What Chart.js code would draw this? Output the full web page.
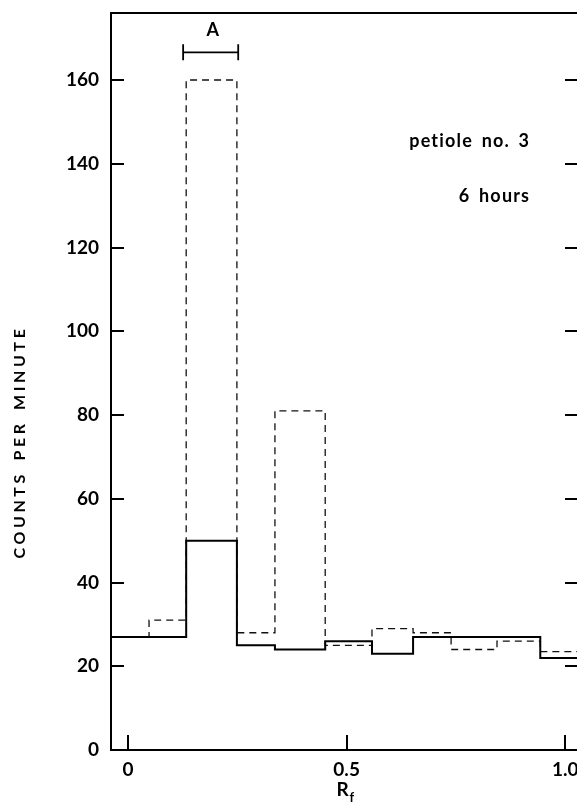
<!DOCTYPE html>
<html>
<head>
<meta charset="utf-8">
<script src="https://cdn.jsdelivr.net/npm/chart.js@4"></script>
<style>
  html, body { margin: 0; padding: 0; background: #fff; }
  #wrap { width: 577px; height: 804px; }
</style>
</head>
<body>
<div id="wrap"><canvas id="chart" width="577" height="804"></canvas></div>
<script>
// strip sections (Rf at each left edge, last one is the right end)
const binEdges = [-0.039, 0.048, 0.133, 0.249, 0.336, 0.451, 0.558, 0.652, 0.739, 0.844, 0.943, 1.027];
// counts per minute for each section
const solidCounts  = [27, 27, 50, 25, 24, 26, 23, 27, 27, 27, 22];
const dashedCounts = [27, 31, 160, 28, 81, 25, 29, 28, 24, 26, 23.5];

const yTickValues = [0, 20, 40, 60, 80, 100, 120, 140, 160];
const xTickValues = [0, 0.5, 1.0];
const xTickLabels = ['0', '0.5', '1.0'];

const bandA = [0.126, 0.252]; // bracket "A"
const FONT = 'Lato, "DejaVu Sans", sans-serif';

function toSteps(counts) {
  const pts = counts.map((c, i) => ({ x: binEdges[i], y: c }));
  pts.push({ x: binEdges[binEdges.length - 1], y: counts[counts.length - 1] });
  return pts;
}

const decor = {
  id: 'decor',
  afterDraw(chart) {
    const { ctx, chartArea: a, scales: { x, y } } = chart;
    ctx.save();
    ctx.strokeStyle = '#000';
    ctx.fillStyle = '#000';
    ctx.lineWidth = 2;

    // top frame
    ctx.beginPath();
    ctx.moveTo(a.left, a.top);
    ctx.lineTo(a.right, a.top);
    ctx.stroke();

    // inward ticks, left and right
    yTickValues.forEach(v => {
      if (v === 0) return;
      const py = Math.round(y.getPixelForValue(v));
      ctx.beginPath();
      ctx.moveTo(a.left, py); ctx.lineTo(a.left + 13, py);
      ctx.moveTo(a.right - 12, py); ctx.lineTo(a.right, py);
      ctx.stroke();
    });
    xTickValues.forEach(v => {
      const px = Math.round(x.getPixelForValue(v));
      ctx.beginPath();
      ctx.moveTo(px, a.bottom); ctx.lineTo(px, a.bottom - 15);
      ctx.stroke();
    });

    // bracket A
    const bx0 = x.getPixelForValue(bandA[0]);
    const bx1 = x.getPixelForValue(bandA[1]);
    const by = y.getPixelForValue(166.6);
    ctx.lineWidth = 1.8;
    ctx.beginPath();
    ctx.moveTo(bx0, by); ctx.lineTo(bx1, by);
    ctx.moveTo(bx0, by - 8); ctx.lineTo(bx0, by + 8);
    ctx.moveTo(bx1, by - 8); ctx.lineTo(bx1, by + 8);
    ctx.stroke();
    ctx.font = 'bold 18px ' + FONT;
    ctx.textAlign = 'center';
    ctx.textBaseline = 'middle';
    ctx.fillText('A', (bx0 + bx1) / 2 + 2, by - 22);

    // notes
    ctx.font = 'bold 18px ' + FONT;
    ctx.letterSpacing = '1.2px';
    ctx.wordSpacing = '3px';
    ctx.textAlign = 'right';
    ctx.fillText('petiole no. 3', x.getPixelForValue(0.92), y.getPixelForValue(145.3));
    ctx.fillText('6 hours', x.getPixelForValue(0.92), y.getPixelForValue(132.2));
    ctx.letterSpacing = '0px';
    ctx.wordSpacing = '0px';

    // x title R_f
    const cx = x.getPixelForValue(0.5);
    ctx.textAlign = 'left';
    ctx.font = 'bold 19px ' + FONT;
    ctx.fillText('R', cx - 10, 790);
    ctx.font = 'bold 13px ' + FONT;
    ctx.fillText('f', cx + 3, 798);

    // y title
    ctx.translate(20, 442);
    ctx.rotate(-Math.PI / 2);
    ctx.textAlign = 'center';
    ctx.font = 'bold 16px ' + FONT;
    ctx.letterSpacing = '3.6px';
    ctx.wordSpacing = '3px';
    ctx.fillText('COUNTS PER MINUTE', 0, 0);
    ctx.restore();
  }
};

new Chart(document.getElementById('chart'), {
  type: 'line',
  data: {
    datasets: [{
      label: 'solid',
      data: toSteps(solidCounts),
      stepped: 'before',
      borderColor: '#000',
      borderWidth: 2,
      pointRadius: 0,
      fill: false
    }, {
      label: 'dashed',
      data: toSteps(dashedCounts),
      stepped: 'before',
      borderColor: '#111',
      borderWidth: 1.3,
      borderDash: [7, 5],
      pointRadius: 0,
      fill: false
    }]
  },
  options: {
    responsive: false,
    animation: false,
    layout: { padding: { top: 13, right: 0, left: 0, bottom: 0 } },
    plugins: { legend: { display: false }, tooltip: { enabled: false } },
    scales: {
      x: {
        type: 'linear',
        min: binEdges[0],
        max: binEdges[binEdges.length - 1],
        afterBuildTicks: s => { s.ticks = xTickValues.map(v => ({ value: v })); },
        afterFit: s => { s.height = 54; s.paddingLeft = 0; s.paddingRight = 0; },
        grid: { display: false, drawTicks: false },
        border: { display: true, color: '#000', width: 2 },
        ticks: {
          padding: 8,
          color: '#000',
          font: { family: FONT, size: 19, weight: 'bold' },
          maxRotation: 0,
          callback: v => xTickLabels[xTickValues.indexOf(v)]
        }
      },
      y: {
        min: 0,
        max: 176,
        afterBuildTicks: s => { s.ticks = yTickValues.map(v => ({ value: v })); },
        afterFit: s => { s.width = 111; s.paddingTop = 0; s.paddingBottom = 0; },
        grid: { display: false, drawTicks: false },
        border: { display: true, color: '#000', width: 2 },
        ticks: {
          padding: 12,
          color: '#000',
          font: { family: FONT, size: 19, weight: 'bold' }
        }
      }
    }
  },
  plugins: [decor]
});
</script>
</body>
</html>
